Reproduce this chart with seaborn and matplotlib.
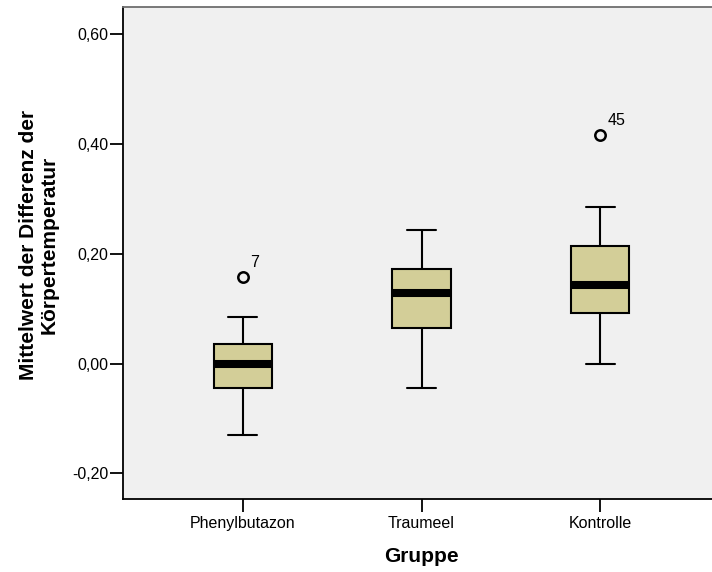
import numpy as np
import pandas as pd
import matplotlib
matplotlib.use("Agg")
import matplotlib.pyplot as plt
from matplotlib.ticker import FuncFormatter, FixedLocator
import seaborn as sns

# ---- data (five-number summaries + outliers) ----
groups = ["Phenylbutazon", "Traumeel", "Kontrolle"]
whisker_low = [-0.130, -0.045, 0.000]
q1_vals = [-0.044, 0.064, 0.093]
median_vals = [0.000, 0.128, 0.143]
q3_vals = [0.035, 0.172, 0.215]
whisker_high = [0.085, 0.243, 0.286]
outlier_vals = [0.158, None, 0.416]
outlier_ids = ["7", None, "45"]
y_ticks = [-0.20, 0.00, 0.20, 0.40, 0.60]

# Build a sample per group whose quartiles/whiskers reproduce the summaries
rows = []
for g, lo, a, m, b, hi, out in zip(groups, whisker_low, q1_vals, median_vals,
                                   q3_vals, whisker_high, outlier_vals):
    last = out if out is not None else hi
    for v in [lo, a, a, m, m, b, b, hi, last]:
        rows.append({"Gruppe": g, "Wert": v})
df = pd.DataFrame(rows)

sns.set_style("white")
plt.rcParams["font.family"] = ["Liberation Sans", "DejaVu Sans"]
plt.rcParams["text.color"] = "black"
plt.rcParams["axes.labelcolor"] = "black"

fig = plt.figure(figsize=(7.12, 5.72), dpi=100, facecolor="white")
W, H = 712, 572
left_px, right_px, top_px, bottom_px = 123, 720, 7, 499
ax = fig.add_axes([left_px / W, 1 - bottom_px / H,
                   (right_px - left_px) / W, (bottom_px - top_px) / H])
ax.set_facecolor("#F0F0F0")

sns.boxplot(data=df, x="Gruppe", y="Wert", order=groups, ax=ax,
            color="#D3CE98", saturation=1, width=0.325, whis=1.3,
            linecolor="black", linewidth=1.5,
            medianprops=dict(color="black", linewidth=5.8),
            flierprops=dict(marker="o", markersize=7.5,
                            markerfacecolor="none", markeredgecolor="black",
                            markeredgewidth=1.8))

# outlier case labels
for i, (v, lab) in enumerate(zip(outlier_vals, outlier_ids)):
    if v is not None:
        ax.annotate(lab, xy=(i, v), xytext=(5.5, 7.2), textcoords="offset points",
                    ha="left", va="baseline", fontsize=11.5, color="black")

ax.set_xlim(-0.672, 2.672)
ax.set_ylim(-0.247, 0.65)
ax.yaxis.set_major_locator(FixedLocator(y_ticks))
ax.yaxis.set_major_formatter(FuncFormatter(lambda v, p: f"{v:.2f}".replace(".", ",")))

ax.tick_params(axis="both", which="major", direction="out", length=9.5,
               width=1.3, color="black", labelsize=11.5, labelcolor="black")
ax.tick_params(axis="y", pad=1)
ax.tick_params(axis="x", pad=3)
ax.tick_params(left=True, bottom=True)

for s in ["left", "bottom"]:
    ax.spines[s].set_color("black")
    ax.spines[s].set_linewidth(1.3)
ax.spines["top"].set_color("#6E6E6E")
ax.spines["top"].set_linewidth(1.3)
ax.spines["right"].set_visible(False)

ax.set_xlabel("Gruppe", fontsize=15, fontweight="bold", color="black")
ax.set_ylabel("Mittelwert der Differenz der\nKörpertemperatur", fontsize=15,
              fontweight="bold", multialignment="center", color="black",
              linespacing=1.15)
ax.xaxis.set_label_coords(0.5, -0.098)
ax.yaxis.set_label_coords((59 - left_px) / (right_px - left_px), 0.516)

fig.savefig("out.png", dpi=100, facecolor="white")
